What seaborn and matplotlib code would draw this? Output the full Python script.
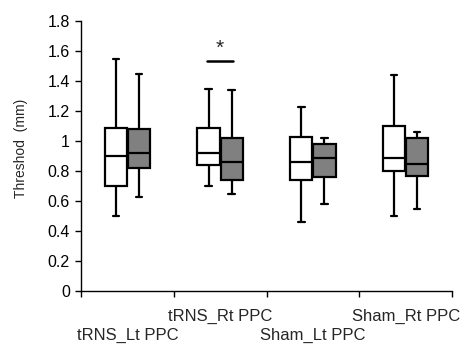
import numpy as np
import pandas as pd
import matplotlib
matplotlib.use("Agg")
import matplotlib.pyplot as plt
from matplotlib.ticker import FuncFormatter, FixedLocator
import seaborn as sns

# ---- data: (lower whisker, Q1, median, Q3, upper whisker)
groups = ["tRNS_Lt PPC", "tRNS_Rt PPC", "Sham_Lt PPC", "Sham_Rt PPC"]
conditions = ["Pre", "Post"]          # white / gray boxes

pre_lt_trns  = [0.50, 0.70, 0.90, 1.09, 1.55]
pre_rt_trns  = [0.70, 0.84, 0.92, 1.09, 1.35]
pre_lt_sham  = [0.46, 0.74, 0.86, 1.03, 1.23]
pre_rt_sham  = [0.50, 0.80, 0.89, 1.10, 1.44]

post_lt_trns = [0.63, 0.82, 0.92, 1.08, 1.45]
post_rt_trns = [0.65, 0.74, 0.86, 1.02, 1.34]
post_lt_sham = [0.58, 0.76, 0.89, 0.98, 1.02]
post_rt_sham = [0.55, 0.77, 0.85, 1.02, 1.06]

sig_group = "tRNS_Rt PPC"
sig_level = 1.535
sig_mark = "*"

pre_boxes = [pre_lt_trns, pre_rt_trns, pre_lt_sham, pre_rt_sham]
post_boxes = [post_lt_trns, post_rt_trns, post_lt_sham, post_rt_sham]

rows = []
for g, pre, post in zip(groups, pre_boxes, post_boxes):
    rows += [dict(group=g, cond="Pre", thr=v) for v in pre]
    rows += [dict(group=g, cond="Post", thr=v) for v in post]
df = pd.DataFrame(rows)

sns.set_theme(style="white")
plt.rcParams["font.family"] = ["Liberation Sans", "DejaVu Sans"]

fig = plt.figure(figsize=(4.73, 3.55), dpi=100)
ax = fig.add_axes([81 / 473, 1 - 291 / 355, 371 / 473, 270 / 355])

line_kw = dict(color="black", linewidth=1.6)
# 5 points per box -> quartiles land exactly on the read values, whiskers to min/max
sns.boxplot(data=df, x="group", y="thr", hue="cond", order=groups,
            hue_order=conditions, palette={"Pre": "white", "Post": "#808080"},
            width=0.5, gap=0.04, whis=(0, 100), linecolor="black", linewidth=1.6,
            capwidths=0.07, capprops=line_kw, whiskerprops=line_kw,
            medianprops=line_kw, legend=False, ax=ax)

ax.set_xlim(-0.5, len(groups) - 0.5)
ax.set_ylim(0, 1.8)
ax.set_yticks(np.arange(0, 1.81, 0.2))
ax.yaxis.set_major_formatter(FuncFormatter(lambda v, _: f"{v:g}"))

# Excel-style: ticks between categories, labels staggered below
ax.xaxis.set_major_locator(FixedLocator(np.arange(-0.5, len(groups), 1.0)))
ax.set_xticklabels([])
for i, g in enumerate(groups):
    y_off = -0.181 if i % 2 == 0 else -0.111
    ax.text(i, y_off, g, transform=ax.get_xaxis_transform(), ha="center",
            va="baseline", fontsize=12)

ax.set_xlabel("")
ax.set_ylabel("Threshod  (mm)", fontsize=10)
ax.yaxis.set_label_coords(-0.143, 0.53)

sns.despine(ax=ax)
for s in ("left", "bottom"):
    ax.spines[s].set_color("black")
    ax.spines[s].set_linewidth(1.0)
ax.tick_params(axis="both", direction="out", length=4, width=1, color="black",
               bottom=True, left=True)
ax.tick_params(axis="y", labelsize=11.5, pad=4, labelcolor="black")

# significance marker above the tRNS_Rt PPC pair
xi = groups.index(sig_group)
ax.plot([xi - 0.14, xi + 0.135], [sig_level, sig_level], color="black", lw=1.8)
ax.text(xi, sig_level + 0.02, sig_mark, ha="center", va="bottom", fontsize=15)

fig.savefig("out.png", dpi=100)
